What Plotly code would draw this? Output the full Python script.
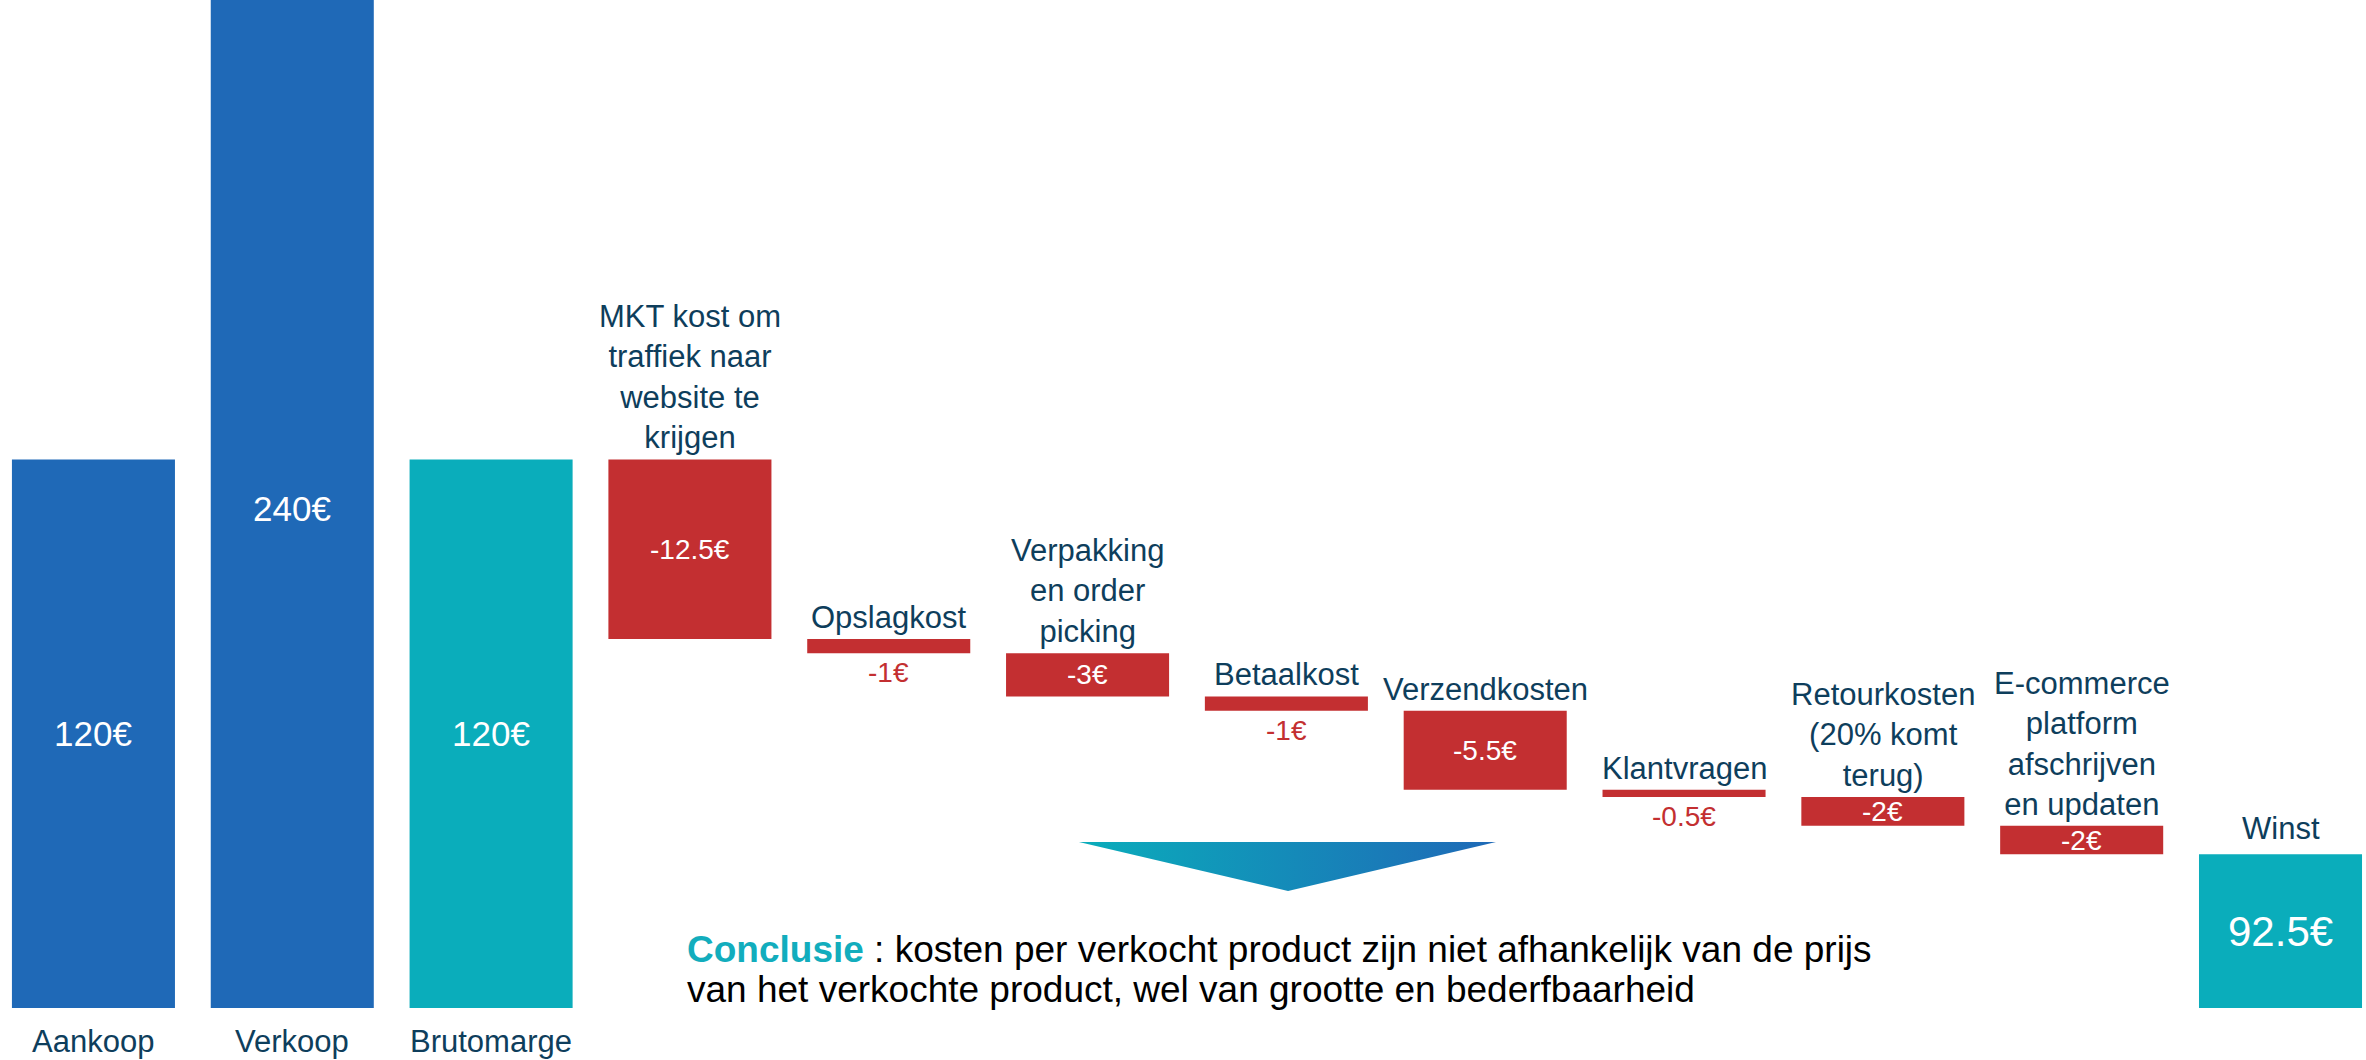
import plotly.graph_objects as go

# ---- data ----------------------------------------------------------------
aankoop = 120
verkoop = 240

cost_labels = [
    "MKT kost om<br>traffiek naar<br>website te<br>krijgen",
    "Opslagkost",
    "Verpakking<br>en order<br>picking",
    "Betaalkost",
    "Verzendkosten",
    "Klantvragen",
    "Retourkosten<br>(20% komt<br>terug)",
    "E-commerce<br>platform<br>afschrijven<br>en updaten",
]
cost_values = [-12.5, -1, -3, -1, -5.5, -0.5, -2, -2]

total_labels = ["Aankoop", "Verkoop", "Brutomarge"]
end_label = "Winst"

conclusion_head = "Conclusie"
conclusion_lines = [
    " : kosten per verkocht product zijn niet afhankelijk van de prijs",
    "van het verkochte product, wel van grootte en bederfbaarheid",
]

# ---- derived waterfall values --------------------------------------------
brutomarge = verkoop - aankoop
bases = []
running = brutomarge
for c in cost_values:
    bases.append(running)
    running += c
winst = running

BLUE = "#1F69B7"
TEAL = "#0AADBB"
RED = "#C32F31"
NAVY = "#0E3E5C"
FONT = "Liberation Sans, Arial, sans-serif"

x_pos = list(range(len(total_labels) + len(cost_values) + 1))
bar_y = [aankoop, verkoop, brutomarge] + cost_values + [winst]
bar_base = [0, 0, 0] + bases + [0]
bar_col = [BLUE, BLUE, TEAL] + [RED] * len(cost_values) + [TEAL]

W, H = 2366, 1060
MARGIN_B = 52
Y_RANGE = [81.8, 152.0]
X_RANGE = [-0.47, 11.43]
plot_h = H - MARGIN_B
px_per_unit = plot_h / (Y_RANGE[1] - Y_RANGE[0])

fig = go.Figure()
fig.add_trace(go.Bar(
    x=x_pos, y=bar_y, base=bar_base,
    marker=dict(color=bar_col, line=dict(width=0)),
    hoverinfo="skip", showlegend=False,
))

# gradient arrow pointing down towards the conclusion
fig.add_trace(go.Scatter(
    x=[0.456, 0.6323, 0.5444, 0.456], y=[0.1647, 0.1647, 0.116, 0.1647],
    mode="none", fill="toself",
    fillgradient=dict(type="horizontal", colorscale=[[0, TEAL], [1, BLUE]]),
    xaxis="x2", yaxis="y2", hoverinfo="skip", showlegend=False,
))

ann = []

# labels under the first three bars
for i, lab in enumerate(total_labels):
    ann.append(dict(x=x_pos[i], y=0, xref="x", yref="paper", text=lab,
                    yanchor="top", yshift=-14, showarrow=False,
                    font=dict(size=31, color=NAVY, family=FONT)))

# values inside the first three bars
vis_mid = (Y_RANGE[0] + aankoop) / 2
ann.append(dict(x=x_pos[0], y=vis_mid, text=f"{aankoop:g}€", showarrow=False,
                font=dict(size=35, color="white", family=FONT)))
ann.append(dict(x=x_pos[1], y=1 - 508 / plot_h, yref="paper", text=f"{verkoop:g}€",
                showarrow=False, font=dict(size=35, color="white", family=FONT)))
ann.append(dict(x=x_pos[2], y=(Y_RANGE[0] + brutomarge) / 2, text=f"{brutomarge:g}€",
                showarrow=False, font=dict(size=35, color="white", family=FONT)))

# cost steps: name above, value inside (or below when the step is too thin)
for k, (lab, val, b) in enumerate(zip(cost_labels, cost_values, bases)):
    xi = x_pos[3 + k]
    ann.append(dict(x=xi, y=b, text=lab, yanchor="bottom", yshift=2, showarrow=False,
                    font=dict(size=31, color=NAVY, family=FONT)))
    h_px = abs(val) * px_per_unit
    if h_px >= 24:
        ann.append(dict(x=xi, y=b + val / 2, text=f"{val:g}€", showarrow=False,
                        font=dict(size=28, color="white", family=FONT)))
    else:
        ann.append(dict(x=xi, y=b + val, text=f"{val:g}€", yanchor="top", yshift=-2,
                        showarrow=False, font=dict(size=28, color=RED, family=FONT)))

# end result
ann.append(dict(x=x_pos[-1], y=winst, text=end_label, yanchor="bottom", yshift=6,
                showarrow=False, font=dict(size=31, color=NAVY, family=FONT)))
ann.append(dict(x=x_pos[-1], y=(Y_RANGE[0] + winst) / 2, text=f"{winst:g}€",
                showarrow=False, font=dict(size=42, color="white", family=FONT)))

# conclusion text
ann.append(dict(x=685 / W, y=1 - 949 / plot_h, xref="paper", yref="paper",
                xanchor="left", yanchor="middle", showarrow=False,
                text=f"<b><span style='color:#12ADBD'>{conclusion_head}</span></b>{conclusion_lines[0]}",
                font=dict(size=37, color="#000000", family=FONT)))
ann.append(dict(x=685 / W, y=1 - 989 / plot_h, xref="paper", yref="paper",
                xanchor="left", yanchor="middle", showarrow=False,
                text=conclusion_lines[1],
                font=dict(size=37, color="#000000", family=FONT)))

fig.update_layout(
    width=W, height=H,
    margin=dict(l=0, r=0, t=0, b=MARGIN_B),
    paper_bgcolor="white", plot_bgcolor="white",
    bargap=0.18, showlegend=False,
    xaxis=dict(range=X_RANGE, visible=False),
    yaxis=dict(range=Y_RANGE, visible=False),
    xaxis2=dict(overlaying="x", range=[0, 1], visible=False),
    yaxis2=dict(overlaying="y", range=[0, 1], visible=False),
    annotations=ann,
)

fig.write_html("out.html")
